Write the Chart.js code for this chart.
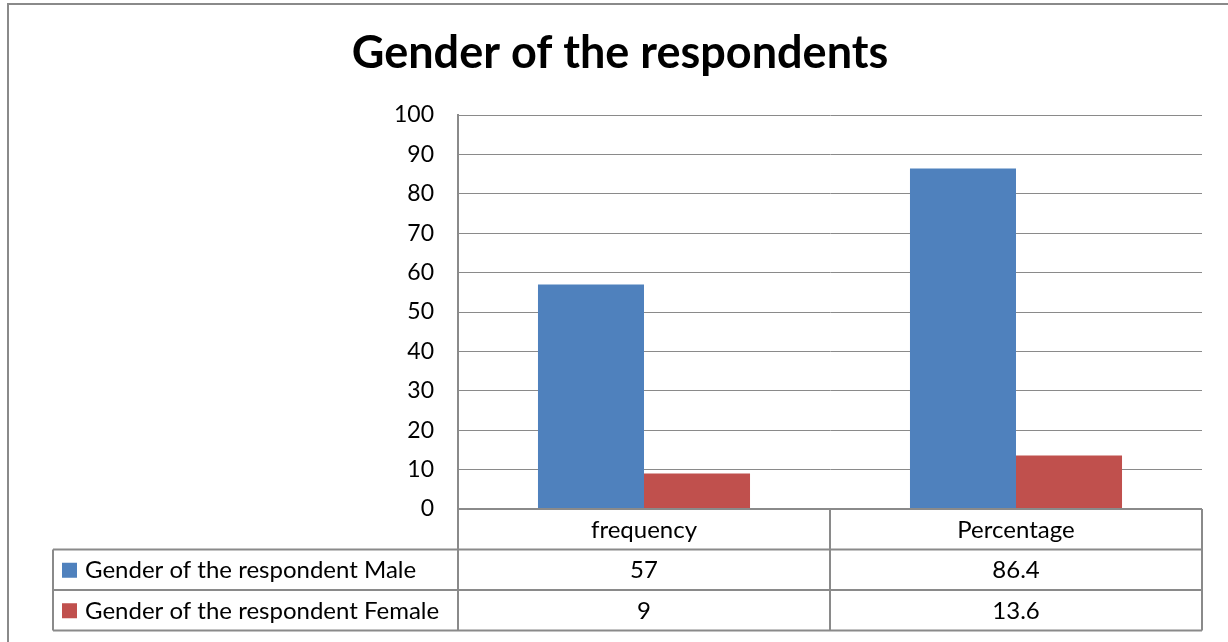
<!DOCTYPE html>
<html>
<head>
<meta charset="utf-8">
<script src="https://cdn.jsdelivr.net/npm/chart.js@4.4.1/dist/chart.umd.min.js"></script>
<style>
  html, body { margin: 0; padding: 0; background: #fff; }
  #wrap { width: 1228px; height: 642px; }
</style>
</head>
<body>
<div id="wrap"><canvas id="graficoGenero"></canvas></div>
<script>
// dados do gráfico
const categories = ["frequency", "Percentage"];
const seriesNames = ["Gender of the respondent Male", "Gender of the respondent Female"];
const maleValues = [57, 86.4];
const femaleValues = [9, 13.6];
const seriesColors = ["#4F81BD", "#C0504D"];
const yMin = 0;
const yMax = 100;
const yStep = 10;

const FONT = "Lato";
const LINE = "#8a8a8a";

// tabela de dados abaixo do gráfico (estilo Excel)
const dataTable = {
  id: "dataTable",
  afterDraw(chart) {
    const { ctx, chartArea, scales } = chart;
    const x = scales.x;
    const rowH = 40.5;
    const top = chartArea.bottom;
    const legendLeft = 53;
    const colW = (chartArea.right - chartArea.left) / categories.length;
    const allSeries = [maleValues, femaleValues];
    const bottom = top + rowH * (allSeries.length + 1);

    ctx.save();
    ctx.strokeStyle = LINE;
    ctx.lineWidth = 2;

    // moldura externa
    ctx.beginPath();
    ctx.moveTo(1240, 4);
    ctx.lineTo(8, 4);
    ctx.lineTo(8, 650);
    ctx.stroke();

    ctx.beginPath();
    // linhas horizontais
    ctx.moveTo(chartArea.left, top);
    ctx.lineTo(chartArea.right, top);
    for (let r = 1; r <= allSeries.length + 1; r++) {
      const yy = top + rowH * r;
      ctx.moveTo(legendLeft, yy);
      ctx.lineTo(chartArea.right, yy);
    }
    // linhas verticais
    ctx.moveTo(legendLeft, top + rowH);
    ctx.lineTo(legendLeft, bottom);
    for (let c = 0; c <= categories.length; c++) {
      const xx = chartArea.left + colW * c;
      ctx.moveTo(xx, top);
      ctx.lineTo(xx, bottom);
    }
    ctx.stroke();

    ctx.fillStyle = "#000";
    ctx.font = "24px " + FONT;
    ctx.textBaseline = "middle";
    ctx.textAlign = "center";
    categories.forEach((cat, i) => {
      ctx.fillText(cat, x.getPixelForValue(i), top + rowH / 2 + 1);
    });

    allSeries.forEach((vals, s) => {
      const cy = top + rowH * (s + 1.5) + 1;
      ctx.textAlign = "center";
      vals.forEach((v, i) => {
        ctx.fillText(String(v), x.getPixelForValue(i), cy);
      });
      ctx.fillStyle = seriesColors[s];
      ctx.fillRect(62, cy - 8, 15, 15);
      ctx.fillStyle = "#000";
      ctx.textAlign = "left";
      ctx.fillText(seriesNames[s], 85, cy);
    });
    ctx.restore();
  },
};

const ctxBar = document.getElementById("graficoGenero").getContext("2d");
new Chart(ctxBar, {
  type: "bar",
  data: {
    labels: categories,
    datasets: [
      {
        label: seriesNames[0],
        data: maleValues,
        backgroundColor: seriesColors[0],
        categoryPercentage: 0.57,
        barPercentage: 1,
      },
      {
        label: seriesNames[1],
        data: femaleValues,
        backgroundColor: seriesColors[1],
        categoryPercentage: 0.57,
        barPercentage: 1,
      },
    ],
  },
  options: {
    responsive: true,
    maintainAspectRatio: false,
    animation: false,
    layout: { padding: { left: 38, right: 26, top: 0, bottom: 133 } },
    plugins: {
      legend: { display: false },
      tooltip: { enabled: false },
      title: {
        display: true,
        text: "Gender of the respondents",
        color: "#000",
        font: { family: FONT, size: 45, weight: "bold" },
        padding: { top: 26, bottom: 35 },
      },
    },
    scales: {
      x: { display: false },
      y: {
        min: yMin,
        max: yMax,
        afterFit: (s) => { s.width = 420; },
        ticks: { stepSize: yStep, color: "#000", padding: 24, font: { family: FONT, size: 23 } },
        grid: { color: LINE, lineWidth: 1, drawTicks: false },
        border: { display: true, color: LINE, width: 2 },
      },
    },
  },
  plugins: [dataTable],
});
</script>
</body>
</html>
